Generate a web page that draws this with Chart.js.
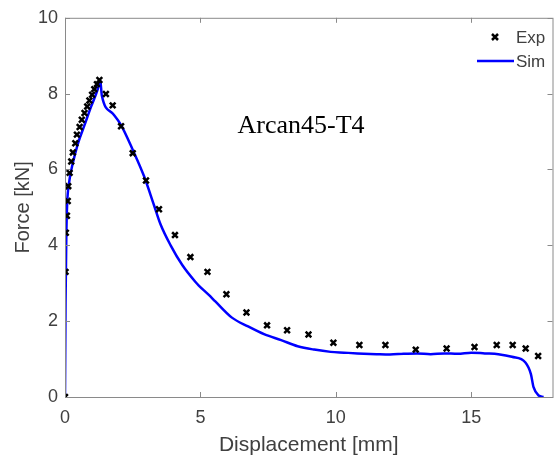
<!DOCTYPE html>
<html>
<head>
<meta charset="utf-8">
<script src="https://cdn.jsdelivr.net/npm/chart.js@4/dist/chart.umd.min.js"></script>
<style>
  html, body { margin: 0; padding: 0; background: #fff; }
  #wrap { width: 559px; height: 464px; }
</style>
</head>
<body>
<div id="wrap"><canvas id="chart"></canvas></div>
<script>
// experimental points (displacement mm, force kN)
const expX = [0, 0.02, 0.03, 0.07, 0.10, 0.12, 0.17, 0.23, 0.29, 0.38, 0.44, 0.54, 0.62, 0.72, 0.82, 0.90, 1.00, 1.08, 1.18, 1.27,
  1.51, 1.76, 2.07, 2.50, 2.99, 3.47, 4.06, 4.63, 5.26, 5.96, 6.70, 7.46, 8.20, 8.99, 9.91, 10.87, 11.83, 12.95, 14.09, 15.12,
  15.94, 16.53, 17.01, 17.47];
const expY = [0, 3.30, 4.33, 4.78, 5.17, 5.56, 5.91, 6.21, 6.45, 6.69, 6.92, 7.12, 7.31, 7.49, 7.66, 7.82, 7.97, 8.12, 8.25, 8.36,
  7.99, 7.69, 7.14, 6.43, 5.71, 4.95, 4.27, 3.69, 3.30, 2.71, 2.23, 1.89, 1.76, 1.65, 1.43, 1.37, 1.37, 1.25, 1.28, 1.32,
  1.37, 1.37, 1.28, 1.08];

// simulation curve
const simX = [0, 0.02, 0.05, 0.08, 0.15, 0.29, 0.48, 0.72, 0.96, 1.21, 1.30, 1.36, 1.77, 2.07, 2.50, 2.92, 3.29, 3.53, 3.90,
  4.33, 4.81, 4.94, 5.30, 5.55, 6.15, 6.76, 7.37, 7.98, 8.59, 9.20, 9.81, 10.30, 10.80, 11.50, 12.00, 12.50, 13.00, 13.50,
  14.00, 14.50, 15.00, 15.50, 16.00, 16.50, 17.00, 17.20, 17.30, 17.49, 17.67];
const simY = [0, 2.50, 4.30, 5.10, 5.65, 6.17, 6.69, 7.17, 7.65, 8.12, 8.36, 7.95, 7.47, 7.17, 6.52, 5.82, 5.05, 4.55, 4.00,
  3.48, 3.04, 2.94, 2.70, 2.52, 2.10, 1.86, 1.65, 1.50, 1.34, 1.25, 1.19, 1.17, 1.15, 1.13, 1.12, 1.14, 1.15, 1.13,
  1.15, 1.14, 1.17, 1.15, 1.13, 1.06, 0.91, 0.61, 0.26, 0.04, 0];

const xTicks = [0, 5, 10, 15];
const yTicks = [0, 2, 4, 6, 8, 10];
const seriesNames = ['Exp', 'Sim'];
const plotTitle = 'Arcan45-T4';
const xTitle = 'Displacement [mm]';
const yTitle = 'Force [kN]';

const axisColor = '#8a8a8a';
const textColor = '#404040';

const frame = {
  id: 'frame',
  afterDatasetsDraw(chart) {
    const { ctx, chartArea: a, scales: { x, y } } = chart;
    ctx.save();
    ctx.strokeStyle = axisColor;
    ctx.lineWidth = 1;
    ctx.strokeRect(a.left + 0.5, a.top + 0.5, a.right - a.left, a.bottom - a.top);
    // inward ticks
    ctx.beginPath();
    xTicks.forEach(v => {
      const px = Math.round(x.getPixelForValue(v)) + 0.5;
      ctx.moveTo(px, a.bottom); ctx.lineTo(px, a.bottom - 5);
      ctx.moveTo(px, a.top); ctx.lineTo(px, a.top + 5);
    });
    yTicks.forEach(v => {
      const py = Math.round(y.getPixelForValue(v)) + 0.5;
      ctx.moveTo(a.left, py); ctx.lineTo(a.left + 5, py);
      ctx.moveTo(a.right, py); ctx.lineTo(a.right - 5, py);
    });
    ctx.stroke();

    // title inside the plot
    ctx.fillStyle = '#000';
    ctx.font = '26px "Liberation Serif", "Times New Roman", serif';
    ctx.textAlign = 'center';
    ctx.textBaseline = 'alphabetic';
    ctx.fillText(plotTitle, 301, 133);

    // legend
    const exp = chart.data.datasets[0], sim = chart.data.datasets[1];
    ctx.strokeStyle = exp.borderColor;
    ctx.lineWidth = exp.pointBorderWidth;
    ctx.beginPath();
    ctx.moveTo(492, 34); ctx.lineTo(498, 40);
    ctx.moveTo(498, 34); ctx.lineTo(492, 40);
    ctx.stroke();
    ctx.strokeStyle = sim.borderColor;
    ctx.lineWidth = sim.borderWidth;
    ctx.beginPath();
    ctx.moveTo(477, 61); ctx.lineTo(514, 61);
    ctx.stroke();
    ctx.fillStyle = textColor;
    ctx.font = '17px "Liberation Sans", Arial, sans-serif';
    ctx.textAlign = 'left';
    ctx.textBaseline = 'middle';
    ctx.fillText(seriesNames[0], 516, 38);
    ctx.fillText(seriesNames[1], 516, 62);
    ctx.restore();
  }
};

new Chart(document.getElementById('chart'), {
  type: 'scatter',
  data: {
    datasets: [
      {
        label: seriesNames[0],
        data: expX.map((v, i) => ({ x: v, y: expY[i] })),
        showLine: false,
        pointStyle: 'crossRot',
        pointRadius: 4,
        borderColor: '#000',
        pointBorderWidth: 2.5,
        order: 0
      },
      {
        label: seriesNames[1],
        data: simX.map((v, i) => ({ x: v, y: simY[i] })),
        showLine: true,
        borderColor: '#0000ff',
        borderWidth: 2.5,
        pointRadius: 0,
        cubicInterpolationMode: 'monotone',
        order: 1
      }
    ]
  },
  options: {
    responsive: true,
    maintainAspectRatio: false,
    animation: false,
    layout: { padding: { left: 0, right: 2, top: 13, bottom: 0 } },
    plugins: { legend: { display: false }, tooltip: { enabled: false } },
    scales: {
      x: {
        type: 'linear',
        min: 0,
        max: 18,
        afterBuildTicks: s => { s.ticks = xTicks.map(v => ({ value: v })); },
        afterFit: s => { s.height = 67; },
        grid: { display: false, drawTicks: false },
        border: { display: false },
        ticks: { padding: 10, color: textColor, font: { size: 18, family: '"Liberation Sans", Arial, sans-serif' } },
        title: { display: true, text: xTitle, color: textColor, padding: { top: 0, bottom: 6 },
          font: { size: 21, family: '"Liberation Sans", Arial, sans-serif' } }
      },
      y: {
        min: 0,
        max: 10,
        afterBuildTicks: s => { s.ticks = yTicks.map(v => ({ value: v })); },
        afterFit: s => { s.width = 65; },
        grid: { display: false, drawTicks: false },
        border: { display: false },
        ticks: { padding: 7, color: textColor, font: { size: 18, family: '"Liberation Sans", Arial, sans-serif' } },
        title: { display: true, text: yTitle, color: textColor, padding: { top: 11, bottom: 0 },
          font: { size: 20, family: '"Liberation Sans", Arial, sans-serif' } }
      }
    }
  },
  plugins: [frame]
});
</script>
</body>
</html>
